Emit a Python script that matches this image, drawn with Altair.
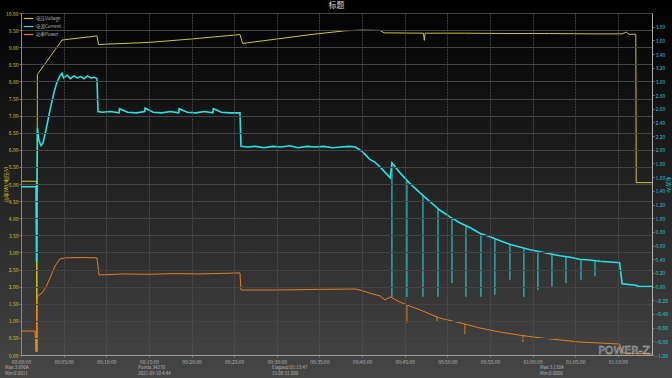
import altair as alt
import pandas as pd

FONT = "Noto Sans CJK SC"

SERIES = ["电压Voltage", "电流Current", "功率Power"]
COLORS = ["#cfc62a", "#22e3e6", "#e5801f"]
TITLE = "标题"

# time in minutes, value in V
VOLT_T = [0.00, 1.80, 1.86, 1.92, 4.81, 8.91, 9.10, 15.0, 20.0, 25.68, 26.00, 30.0, 34.0, 38.0,
          40.0, 42.1, 42.6, 47.2, 47.3, 47.4, 52.0, 57.0, 62.0, 67.0, 70.5, 71.0, 71.3, 72.10, 72.15, 74.0]
VOLT_V = [5.08, 5.08, 0.10, 8.20, 9.21, 9.33, 9.08, 9.14, 9.24, 9.37, 9.11, 9.24, 9.37, 9.48,
          9.50, 9.49, 9.42, 9.41, 9.20, 9.41, 9.41, 9.40, 9.40, 9.39, 9.39, 9.44, 9.38, 9.38, 5.04, 5.04]

# time in minutes, current in A
CUR_T = [0.00, 1.76, 1.82, 1.93, 2.10, 2.35, 2.58, 2.93, 3.40, 3.87, 4.22, 4.57, 4.81, 5.00, 5.40,
         5.80, 6.20, 6.60, 7.00, 7.40, 7.80, 8.20, 8.60, 8.91, 9.03,
         9.50, 10.5, 11.5, 11.55, 12.5, 13.5, 14.5, 14.55, 15.5, 16.5, 17.5, 18.5, 18.55, 19.5, 20.5,
         21.5, 22.5, 22.55, 23.5, 24.5, 25.68, 25.80,
         26.5, 27.5, 28.5, 29.5, 30.5, 31.5, 32.5, 33.5, 34.5, 35.5, 36.5, 37.5, 38.5, 39.2, 39.75,
         40.3, 40.9, 41.5, 42.1, 42.7, 43.3, 43.5, 44.4, 45.6, 46.8, 48.0, 49.1, 50.3, 51.5, 52.7,
         53.8, 55.0, 56.2, 57.3, 58.5, 59.7, 60.9, 62.0, 63.2, 64.4, 65.5, 66.7, 67.9, 69.1, 70.2,
         70.5, 72.1, 72.5, 74.0]
CUR_A = [1.46, 1.46, 0.36, 2.32, 2.14, 2.06, 2.10, 2.29, 2.58, 2.84, 2.99, 3.08, 3.12, 3.05, 3.09,
         3.04, 3.08, 3.05, 3.07, 3.04, 3.08, 3.05, 3.06, 3.04, 2.56,
         2.55, 2.56, 2.54, 2.60, 2.55, 2.54, 2.56, 2.61, 2.55, 2.54, 2.56, 2.54, 2.60, 2.55, 2.54,
         2.56, 2.54, 2.60, 2.55, 2.54, 2.54, 2.05,
         2.04, 2.05, 2.03, 2.05, 2.04, 2.06, 2.03, 2.05, 2.04, 2.05, 2.03, 2.04, 2.05, 2.04, 2.00,
         1.94, 1.86, 1.82, 1.75, 1.67, 1.59, 1.81, 1.67, 1.51, 1.37, 1.24, 1.12, 1.02, 0.93, 0.86,
         0.78, 0.73, 0.67, 0.62, 0.58, 0.54, 0.51, 0.48, 0.45, 0.43, 0.40, 0.39, 0.37, 0.36, 0.35,
         0.04, 0.02, 0.00, 0.00]

# current drop-outs (time, curve value, lowest value)
CSPIKE_T = [43.50, 45.26, 47.14, 48.90, 50.54, 52.18, 53.94, 55.58, 57.34, 58.98, 60.62, 62.27, 63.91, 65.67, 67.31]
CSPIKE_HI = [1.81, 1.55, 1.34, 1.14, 1.00, 0.89, 0.78, 0.70, 0.62, 0.56, 0.52, 0.47, 0.44, 0.40, 0.38]
CSPIKE_LO = [-0.15, -0.15, -0.15, -0.15, 0.05, -0.15, -0.15, -0.12, 0.10, -0.15, -0.05, 0.00, 0.05, 0.10, 0.15]

# power (shown on left scale)
POW_T = [0.00, 1.64, 1.76, 1.88, 1.99, 2.46, 2.93, 3.40, 3.99, 4.57, 5.16, 7.00, 8.91, 9.15, 12.0,
         15.0, 18.0, 21.0, 25.68, 25.80, 30.0, 35.0, 39.2, 39.75, 40.9, 42.1, 42.7, 43.3, 44.4, 45.6,
         46.8, 49.1, 51.5, 53.8, 56.2, 58.5, 60.9, 63.2, 65.5, 67.9, 70.2, 70.6, 74.0]
POW_V = [0.70, 0.70, 0.09, 1.61, 1.73, 1.81, 1.99, 2.25, 2.60, 2.81, 2.84, 2.85, 2.84, 2.34, 2.37,
         2.36, 2.38, 2.37, 2.40, 1.90, 1.90, 1.92, 1.93, 1.90, 1.81, 1.73, 1.61, 1.70, 1.55, 1.43,
         1.32, 1.08, 0.94, 0.79, 0.67, 0.58, 0.50, 0.44, 0.38, 0.35, 0.32, 0.06, 0.03]
PSPIKE_T = [45.26, 48.78, 52.06, 58.87]
PSPIKE_HI = [1.46, 1.11, 0.90, 0.56]
PSPIKE_LO = [0.94, 0.97, 0.61, 0.38]

X_TICKS = [0, 5, 10, 15, 20, 25, 30, 35, 40, 45, 50, 55, 60, 65, 70]
LEFT_TICKS = [0.0, 0.5, 1.0, 1.5, 2.0, 2.5, 3.0, 3.5, 4.0, 4.5, 5.0, 5.5, 6.0, 6.5, 7.0, 7.5, 8.0,
              8.5, 9.0, 9.5, 10.0]
RIGHT_TICKS = [-1.0, -0.8, -0.6, -0.4, -0.2, 0.0, 0.2, 0.4, 0.6, 0.8, 1.0, 1.2, 1.4, 1.6, 1.8, 2.0,
               2.2, 2.4, 2.6, 2.8, 3.0, 3.2, 3.4, 3.6, 3.8]

FOOTER = [
    (5, ["Max:3.090A", "Min:0.0011"]),
    (138, ["Points:34270", "2021-09-10 4:44"]),
    (272, ["Elapsed:01:13:47", "15:08:31.000"]),
    (540, ["Max:3.130A", "Min:0.0000"]),
]

W, H = 631, 342
PL, PT = 21, 13

left_df = pd.concat([
    pd.DataFrame({"t": VOLT_T, "v": VOLT_V, "series": SERIES[0]}),
    pd.DataFrame({"t": POW_T, "v": POW_V, "series": SERIES[2]}),
])
cur_df = pd.DataFrame({"t": CUR_T, "a": CUR_A, "series": SERIES[1]})
cspk = pd.DataFrame({"t": CSPIKE_T, "hi": CSPIKE_HI, "lo": CSPIKE_LO})
pspk = pd.DataFrame({"t": PSPIKE_T, "hi": PSPIKE_HI, "lo": PSPIKE_LO})

color_scale = alt.Scale(domain=SERIES, range=COLORS)
legend = alt.Legend(
    orient="none", legendX=2, legendY=0, title=None, symbolType="stroke",
    symbolSize=90, symbolStrokeWidth=1.2, labelFontSize=4.5, labelColor="#b8b8b8",
    labelFont=FONT, rowPadding=0, labelOffset=2, zindex=2,
)

x_label_expr = ("(floor(datum.value/60)<10?'0':'')+floor(datum.value/60)+':'+"
                "((datum.value%60)<10?'0':'')+(datum.value%60)+':00'")
x_scale = alt.Scale(domain=[0, 74], nice=False, zero=False)
x_axis = alt.Axis(values=X_TICKS, labelExpr=x_label_expr, title=None, labelFontSize=5,
                  labelColor="#b0b0b0", labelFont=FONT, grid=True, gridColor="#5a5a5a",
                  gridDash=[2, 1], gridWidth=0.7, domainColor="#a0a0a0", tickColor="#777",
                  tickSize=2, labelPadding=2, labelFlush=False, labelOverlap=False, zindex=1)

left_scale = alt.Scale(domain=[0, 10], nice=False, zero=False)
left_axis = alt.Axis(
    orient="left", values=LEFT_TICKS, format=".2f", title="功率(W)/电压(V)", titleColor="#cfc62a",
    titleFontSize=5, titleFont=FONT, titleFontWeight="normal", titleAngle=-90,
    titleX=-16, titleY=H / 2, titleAlign="center", titleBaseline="middle",
    labelColor="#cfc62a", labelFontSize=5, labelFont=FONT, labelPadding=1, tickSize=2,
    tickColor="#777", domainColor="#8a8a8a", grid=True, gridColor="#444444", gridWidth=1,
    labelFlush=False, labelOverlap=False, zindex=1,
)
right_scale = alt.Scale(domain=[-1, 4], nice=False, zero=False)
right_axis = alt.Axis(
    orient="right", values=RIGHT_TICKS, format=".2f", title="电流(A)", titleColor="#22c8cc",
    titleFontSize=5, titleFont=FONT, titleFontWeight="normal", titleAngle=90,
    titleX=16, titleY=H / 2, titleAlign="center", titleBaseline="middle",
    labelColor="#22c8cc", labelFontSize=5, labelFont=FONT, labelPadding=1, tickSize=2,
    tickColor="#777", domainColor="#b0b0b0", grid=False, labelFlush=False,
    labelOverlap=False, zindex=1,
)

bg = alt.Chart(pd.DataFrame({"k": [0]})).mark_rect(
    color=alt.Gradient(
        gradient="linear", x1=0, x2=0, y1=0, y2=1,
        stops=[alt.GradientStop(color="#000000", offset=0),
               alt.GradientStop(color="#464646", offset=1)],
    )
).encode(x=alt.value(-PL), x2=alt.value(W + 21), y=alt.value(-PT), y2=alt.value(H + 23))

left_lines = alt.Chart(left_df).mark_line(strokeWidth=1).encode(
    x=alt.X("t:Q", scale=x_scale, axis=x_axis),
    y=alt.Y("v:Q", scale=left_scale, axis=left_axis),
    color=alt.Color("series:N", scale=color_scale, legend=legend),
    detail="series:N",
)
pow_spikes = alt.Chart(pspk).mark_rule(color=COLORS[2], strokeWidth=1).encode(
    x=alt.X("t:Q", scale=x_scale, axis=x_axis),
    y=alt.Y("lo:Q", scale=left_scale, axis=left_axis),
    y2="hi:Q",
)
left_layer = alt.layer(left_lines, pow_spikes)

cur_line = alt.Chart(cur_df).mark_line(strokeWidth=1.6).encode(
    x=alt.X("t:Q", scale=x_scale, axis=x_axis),
    y=alt.Y("a:Q", scale=right_scale, axis=right_axis),
    color=alt.Color("series:N", scale=color_scale, legend=legend),
)
cur_spikes = alt.Chart(cspk).mark_rule(color=COLORS[1], strokeWidth=1).encode(
    x=alt.X("t:Q", scale=x_scale, axis=x_axis),
    y=alt.Y("lo:Q", scale=right_scale, axis=right_axis),
    y2="hi:Q",
)
right_layer = alt.layer(cur_line, cur_spikes)

texts = []
for px, lines in FOOTER:
    texts.append(
        alt.Chart(pd.DataFrame({"k": [0]})).mark_text(
            text=lines, align="left", baseline="top", fontSize=4.5, font=FONT,
            color="#b8b8b8", lineHeight=6,
        ).encode(x=alt.value(px - PL), y=alt.value(H + 10))
    )
watermark = alt.Chart(pd.DataFrame({"k": [0]})).mark_text(
    text="POWER-Z", align="right", baseline="alphabetic", fontSize=11, font="DejaVu Sans",
    fillOpacity=0, stroke="#a8a8a8", strokeWidth=0.6,
).encode(x=alt.value(W - 2), y=alt.value(H - 1))
title = alt.Chart(pd.DataFrame({"k": [0]})).mark_text(
    text=TITLE, align="center", baseline="middle", fontSize=8, font=FONT, color="#d8d8d8",
).encode(x=alt.value(W / 2), y=alt.value(-7))

chart = alt.layer(bg, left_layer, right_layer, *texts, watermark, title).resolve_scale(
    y="independent"
).properties(
    width=W, height=H,
    padding={"left": PL, "top": PT, "right": 672 - PL - W, "bottom": 378 - PT - H},
    autosize=alt.AutoSizeParams(type="none"),
    background="#0a0a0a",
).configure_view(stroke="#7a7a7a", strokeWidth=1)

chart.save("out.html", embed_options={"renderer": "svg", "actions": False})
